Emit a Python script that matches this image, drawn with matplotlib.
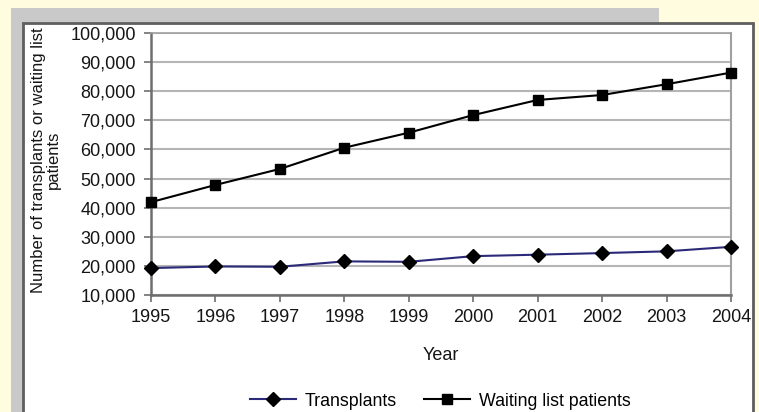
import matplotlib
matplotlib.use("Agg")
import matplotlib.pyplot as plt
from matplotlib.patches import Rectangle
from matplotlib.lines import Line2D

years = [1995, 1996, 1997, 1998, 1999, 2000, 2001, 2002, 2003, 2004]
transplants = [19250, 19800, 19700, 21550, 21400, 23350, 23850, 24400, 25000, 26550]
waiting_list = [41900, 47800, 53300, 60600, 65750, 71800, 77000, 78700, 82400, 86400]
y_ticks = [10000, 20000, 30000, 40000, 50000, 60000, 70000, 80000, 90000, 100000]

plt.rcParams['font.family'] = ['Liberation Sans', 'DejaVu Sans']

W, H = 759, 412
fig = plt.figure(figsize=(W / 100, H / 100), dpi=100)
fig.patch.set_facecolor('#FFFCE0')

def px_rect(x0, y0, x1, y1, **kw):
    r = Rectangle((x0 / W, 1 - y1 / H), (x1 - x0) / W, (y1 - y0) / H,
                  transform=fig.transFigure, zorder=-10, **kw)
    fig.patches.append(r)

# gray frame
px_rect(11, 8, 659, 24, facecolor='#C9C9C9', edgecolor='none')
px_rect(11, 8, 24, 412, facecolor='#C9C9C9', edgecolor='none')
# white panel with dark border
px_rect(23, 23, 753, 414, facecolor='white', edgecolor='#5E5E5E', linewidth=2)

ax = fig.add_axes([151 / W, 117 / H, (731 - 151) / W, (379 - 117) / H])
ax.set_facecolor('white')
ax.set_xlim(1995, 2004)
ax.set_ylim(10000, 100000)
ax.set_yticks(y_ticks)
ax.set_yticklabels([f"{v:,}" for v in y_ticks])
ax.set_xticks(years)
ax.set_xticklabels([str(y) for y in years])
ax.yaxis.grid(True, color='#B5B5B5', linewidth=1.5)
ax.set_axisbelow(True)
for s in ['left', 'bottom']:
    ax.spines[s].set_color('#6E6E6E')
    ax.spines[s].set_linewidth(1.8)
ax.spines['right'].set_color('#A0A0A0')
ax.spines['right'].set_linewidth(1.5)
ax.spines['top'].set_color('#A0A0A0')
ax.spines['top'].set_linewidth(1.2)
ax.tick_params(axis='both', direction='out', length=5, width=1.2, color='#6E6E6E',
               labelsize=13, labelcolor='#151515')
ax.tick_params(axis='y', pad=6)
ax.tick_params(axis='x', pad=5)

ax.plot(years, transplants, color='#2B2A78', linewidth=1.5, marker='D',
        markersize=7.5, markerfacecolor='black', markeredgecolor='black',
        clip_on=False, zorder=5)
ax.plot(years, waiting_list, color='black', linewidth=1.5, marker='s',
        markersize=7.5, markerfacecolor='black', markeredgecolor='black',
        clip_on=False, zorder=5)

ax.set_xlabel('Year', fontsize=13, color='#151515', labelpad=15)
fig.text(46 / W, 1 - 160 / H, 'Number of transplants or waiting list\npatients',
         rotation=90, ha='center', va='center', fontsize=12, color='#151515',
         multialignment='center', linespacing=1.0)

handles = [
    Line2D([], [], color='#2B2A78', linewidth=1.5, marker='D', markersize=7.5,
           markerfacecolor='black', markeredgecolor='black'),
    Line2D([], [], color='black', linewidth=1.5, marker='s', markersize=7.5,
           markerfacecolor='black', markeredgecolor='black'),
]
fig.legend(handles, ['Transplants', 'Waiting list patients'], loc='center',
           bbox_to_anchor=(440 / W, 1 - 401 / H), ncol=2, frameon=False,
           fontsize=12.8, handlelength=2.6, handletextpad=0.5, columnspacing=1.5,
           borderpad=0)

fig.savefig('out.png', dpi=100, facecolor=fig.get_facecolor())
